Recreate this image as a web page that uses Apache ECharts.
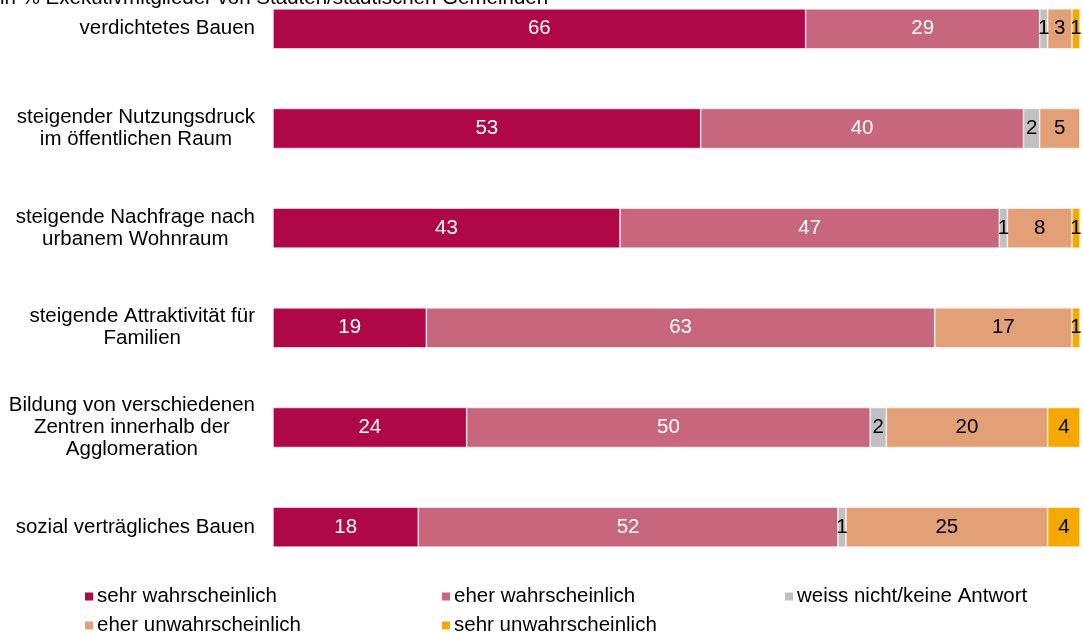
<!DOCTYPE html>
<html>
<head>
<meta charset="utf-8">
<script src="https://cdn.jsdelivr.net/npm/echarts@6/dist/echarts.min.js"></script>
<style>
html,body{margin:0;padding:0;background:#fff;overflow:hidden;}
#wrap{position:relative;width:1083px;height:634px;overflow:hidden;}
#chart{position:absolute;left:0;top:-21px;width:1083px;height:655px;}
</style>
</head>
<body>
<div id="wrap"><div id="chart"></div></div>
<script>
const titleText = 'in % Exekutivmitglieder von Städten/städtischen Gemeinden';
const categories = [
  'verdichtetes Bauen',
  'steigender Nutzungsdruck\nim öffentlichen Raum',
  'steigende Nachfrage nach\nurbanem Wohnraum',
  'steigende Attraktivität für\nFamilien',
  'Bildung von verschiedenen\nZentren innerhalb der\nAgglomeration',
  'sozial verträgliches Bauen'
];
const seriesNames = ['sehr wahrscheinlich','eher wahrscheinlich','weiss nicht/keine Antwort','eher unwahrscheinlich','sehr unwahrscheinlich'];
const sehrWahrscheinlich   = [66, 53, 43, 19, 24, 18];
const eherWahrscheinlich   = [29, 40, 47, 63, 50, 52];
const weissNicht           = [1, 2, 1, 0, 2, 1];
const eherUnwahrscheinlich = [3, 5, 8, 17, 20, 25];
const sehrUnwahrscheinlich = [1, 0, 1, 1, 4, 4];

const values = [sehrWahrscheinlich, eherWahrscheinlich, weissNicht, eherUnwahrscheinlich, sehrUnwahrscheinlich];
const colors = ['#B00747', '#C8667E', '#C0C0C0', '#E39F76', '#F5A800'];
const labelColors = ['#fff', '#fff', '#000', '#000', '#000'];
const legendPos = [[83,607],[440,607],[783,607],[83,636],[440,636]];
const FONT = '"Liberation Sans", Arial, sans-serif';
const FS = 20.5;

const chart = echarts.init(document.getElementById('chart'), null, {renderer:'canvas'});
const option = {
  backgroundColor: '#fff',
  animation: false,
  title: {
    text: titleText, left: 0, top: 9, padding: 0,
    textStyle: {fontFamily: FONT, fontSize: FS, fontWeight: 'normal', color: '#000'}
  },
  legend: seriesNames.map((n, i) => ({
    data: [n], left: legendPos[i][0], top: legendPos[i][1], padding: 0,
    itemWidth: 10, itemHeight: 10, icon: 'rect',
    textStyle: {fontFamily: FONT, fontSize: FS, color: '#000', padding: [0,0,0,-2]}
  })),
  grid: {left: 273, right: 3, top: 0, bottom: 57, containLabel: false},
  xAxis: {type: 'value', min: 0, max: 100, show: false},
  yAxis: {
    type: 'category', data: categories, inverse: true,
    axisLine: {show: false}, axisTick: {show: false},
    axisLabel: {
      margin: 18, fontFamily: FONT, fontSize: FS, color: '#000', lineHeight: 22,
      formatter: v => v.split('\n').map(l => '{c|' + l + '}').join('\n'),
      rich: {c: {align: 'center', fontFamily: FONT, fontSize: FS, color: '#000', lineHeight: 22}}
    }
  },
  series: values.map((arr, i) => ({
    name: seriesNames[i], type: 'bar', stack: 'total', barWidth: 40,
    itemStyle: {color: colors[i], borderColor: '#fff', borderWidth: 0.6},
    label: {
      show: true, position: 'inside', fontFamily: FONT, fontSize: FS, color: labelColors[i],
      formatter: p => p.value > 0 ? String(p.value) : ''
    },
    data: arr
  }))
};
chart.setOption(option);
</script>
</body>
</html>
